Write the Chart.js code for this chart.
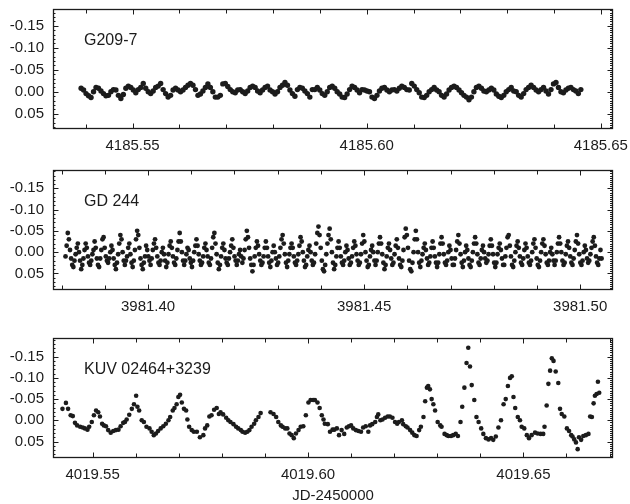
<!DOCTYPE html>
<html>
<head>
<meta charset="utf-8">
<script src="https://cdn.jsdelivr.net/npm/chart.js@4.4.1/dist/chart.umd.min.js"></script>
<style>
  html, body { margin: 0; padding: 0; background: #fff; }
  #wrap { position: relative; width: 630px; height: 504px; }
  canvas { position: absolute; left: 0; display: block; }
</style>
</head>
<body>
<div id="wrap">
  <canvas id="c1" width="630" height="160" style="top:0"></canvas>
  <canvas id="c2" width="630" height="160" style="top:160px"></canvas>
  <canvas id="c3" width="630" height="176" style="top:328px"></canvas>
</div>
<script>
// ---- light curves (differential magnitude vs JD-2450000) ----

// G209-7: regular cadence
const g209Start = 4185.5390;
const g209Cadence = 0.000531;
const g209Dmag = [
  -0.008, -0.004, 0.004, 0.009, 0.013, 0.000, -0.010, -0.008, -0.002, 0.004,
  0.009, 0.008, 0.000, -0.005, -0.004, 0.008, 0.015, 0.006, -0.008, -0.013,
  -0.010, -0.004, 0.002, -0.005, -0.010, -0.019, -0.008, 0.000, 0.004, -0.002,
  -0.010, -0.013, -0.019, -0.005, 0.004, 0.012, 0.008, -0.004, -0.008, -0.004,
  0.000, -0.004, -0.010, -0.015, -0.019, -0.015, -0.005, 0.008, 0.005, -0.002,
  -0.010, -0.018, -0.010, 0.000, 0.012, 0.012, 0.008, -0.018, -0.019, -0.012,
  -0.005, 0.000, 0.002, -0.004, -0.005, 0.000, 0.004, -0.002, -0.010, -0.013,
  -0.010, -0.002, 0.002, -0.004, -0.010, -0.013, -0.004, 0.000, 0.005, 0.000,
  -0.010, -0.015, -0.021, -0.015, -0.004, 0.004, 0.010, -0.005, -0.010, -0.008,
  -0.002, 0.004, 0.012, -0.005,
  -0.005, -0.010, -0.004, 0.004, 0.008, 0.000, -0.010, -0.013, -0.008, 0.000,
  0.005, 0.012, 0.013, 0.005, -0.005, -0.013, -0.010, -0.004, 0.002, -0.005,
  -0.004, -0.002, 0.000, 0.012, 0.015, 0.008, -0.002, -0.008, -0.010, -0.004,
  0.000, -0.004, -0.005, -0.002, -0.008, -0.013, -0.010, -0.005, -0.004, -0.019,
  -0.013, -0.005, 0.002, 0.012, 0.013, 0.008, 0.000, -0.005, -0.010, -0.004,
  0.000, 0.008, 0.012, 0.005, -0.004, -0.010, -0.013, -0.010, -0.004, 0.002,
  0.008, 0.012, 0.018, 0.012, 0.000, -0.010, -0.013, -0.008, -0.002, 0.000,
  -0.004, -0.008, -0.004, 0.005, 0.010, 0.013, 0.008, 0.000, -0.005, -0.010,
  -0.002, 0.000, 0.008, 0.012, 0.004, -0.005, -0.010, -0.015, -0.010, -0.004,
  0.000, -0.005, -0.010, -0.002, 0.005, -0.005, -0.018, -0.021, -0.010, 0.000,
  0.002, -0.004, -0.008, -0.010, -0.005, -0.002, 0.004, -0.005
];

// GD 244: regular cadence
const gd244Start = 3981.3809;
const gd244Cadence = 0.000259;
const gd244Dmag = [
  0.010, -0.015, -0.045, -0.030, -0.005, 0.015, 0.030, 0.035, 0.020, 0.005, -0.010, -0.020, 0.000, 0.020, 0.040, 0.030, 0.015, -0.005, -0.020, -0.010,
  0.010, 0.025, 0.030, 0.020, 0.005, -0.005, -0.025, -0.010, 0.015, 0.030, 0.035, 0.015, -0.005, -0.030, -0.035, -0.010, 0.010, 0.020, 0.025, 0.015,
  0.000, -0.015, -0.005, 0.015, 0.030, 0.040, 0.025, 0.005, -0.020, -0.040, -0.030, 0.000, 0.020, 0.030, 0.020, 0.010, -0.010, -0.020, 0.005, 0.025,
  0.035, 0.020, -0.005, -0.030, -0.050, -0.040, -0.010, 0.015, 0.030, 0.040, 0.025, 0.010, -0.015, -0.005, 0.010, 0.020, 0.030, 0.015, -0.005, -0.020,
  -0.030, -0.010, 0.010, 0.025, 0.030, 0.020, 0.000, -0.010, 0.005, 0.020, 0.035, 0.025, 0.005, -0.015, -0.025, -0.010, 0.010, 0.025, 0.030, 0.015,
  -0.005, -0.025, -0.045, -0.025, 0.000, 0.020, 0.030, 0.020, 0.005, -0.010, -0.005, 0.015, 0.025, 0.035, 0.020, 0.000, -0.015, -0.030, -0.015, 0.005,
  0.020, 0.030, 0.025, 0.010, -0.010, -0.020, -0.005, 0.010, 0.025, 0.030, 0.015, -0.010, -0.035, -0.045, -0.020, 0.005, 0.025, 0.040, 0.030, 0.010,
  -0.010, -0.020, -0.005, 0.015, 0.025, 0.030, 0.015, 0.000, -0.015, -0.030, -0.010, 0.010, 0.020, 0.030, 0.020, 0.005, -0.005, 0.010, 0.025, 0.015,
  -0.005, -0.030, -0.050, -0.035, -0.010, 0.015, 0.030, 0.045, 0.030, 0.010, -0.010, -0.025, -0.015, 0.005, 0.020, 0.030, 0.025, 0.010, -0.010, -0.025,
  -0.010, 0.010, 0.025, 0.035, 0.020, 0.000, -0.015, 0.000, 0.015, 0.030, 0.025, 0.010, -0.010, -0.030, -0.040, -0.020, 0.005, 0.025, 0.035, 0.020,
  0.005, -0.010, -0.020, -0.010, 0.010, 0.025, 0.030, 0.020, 0.005, -0.015, -0.035, -0.025, 0.000, 0.020, 0.035, 0.030, 0.010, -0.005, -0.015, 0.000,
  0.020, 0.030, 0.025, 0.005, -0.020, -0.045, -0.060, -0.040, -0.010, 0.020, 0.040, 0.045, 0.030, 0.005, -0.020, -0.040, -0.055, -0.030, 0.000, 0.025,
  0.040, 0.030, 0.010, -0.010, -0.025, -0.010, 0.010, 0.025, 0.030, 0.020, 0.000, -0.015, -0.005, 0.015, 0.030, 0.025, 0.010, -0.010, -0.025, -0.015,
  0.005, 0.020, 0.030, 0.025, 0.005, -0.020, -0.040, -0.025, 0.000, 0.020, 0.035, 0.030, 0.010, -0.005, -0.015, 0.000, 0.020, 0.030, 0.020, 0.000,
  -0.020, -0.035, -0.020, 0.005, 0.025, 0.040, 0.030, 0.010, -0.010, -0.020, -0.005, 0.015, 0.030, 0.025, 0.005, -0.015, -0.030, -0.010, 0.015, 0.030,
  0.035, 0.020, -0.005, -0.035, -0.055, -0.040, -0.010, 0.020, 0.040, 0.045, 0.025, 0.000, -0.030, -0.050, -0.030, 0.000, 0.025, 0.035, 0.020, 0.005,
  -0.010, -0.020, -0.005, 0.015, 0.030, 0.025, 0.010, -0.010, -0.025, -0.010, 0.010, 0.025, 0.035, 0.025, 0.005, -0.020, -0.035, -0.020, 0.005, 0.025,
  0.030, 0.020, 0.000, -0.015, -0.005, 0.015, 0.030, 0.030, 0.015, -0.005, -0.025, -0.040, -0.020, 0.005, 0.025, 0.035, 0.020, 0.000, -0.015, -0.005,
  0.015, 0.030, 0.035, 0.020, 0.000, -0.020, -0.035, -0.020, 0.005, 0.025, 0.030, 0.015, -0.005, -0.015, 0.000, 0.015, 0.025, 0.020, 0.005, -0.015,
  -0.030, -0.015, 0.005, 0.025, 0.035, 0.025, 0.005, -0.010, -0.020, -0.005, 0.015, 0.030, 0.030, 0.010, -0.010, -0.035, -0.040, -0.015, 0.010, 0.030,
  0.035, 0.020, 0.000, -0.015, -0.025, -0.010, 0.010, 0.025, 0.030, 0.015, -0.005, -0.020, -0.010, 0.010, 0.025, 0.030, 0.020, 0.000, -0.020, -0.030,
  -0.010, 0.015, 0.030, 0.035, 0.020, 0.000, -0.020, -0.030, -0.015, 0.005, 0.025, 0.030, 0.020, 0.000, -0.010, 0.005, 0.020, 0.030, 0.020, 0.000,
  -0.020, -0.035, -0.020, 0.000, 0.020, 0.030, 0.025, 0.005, -0.015, -0.025, -0.010, 0.010, 0.025, 0.030, 0.015, -0.005, -0.025, -0.040, -0.020, 0.005,
  0.025, 0.030, 0.020, 0.000, -0.015, -0.005, 0.015, 0.025, 0.020, 0.005, -0.010, -0.025, -0.035, -0.015, 0.010, 0.025, 0.030, 0.015, -0.005, 0.015
];

// KUV 02464+3239: individual timestamps
const kuvTime = [
  4019.5430, 4019.5438, 4019.5443, 4019.5449, 4019.5454, 4019.5459, 4019.5464, 4019.5471, 4019.5477, 4019.5482,
  4019.5488, 4019.5492, 4019.5498, 4019.5503, 4019.5508, 4019.5513, 4019.5517, 4019.5522, 4019.5526, 4019.5531,
  4019.5536, 4019.5542, 4019.5548, 4019.5554, 4019.5560, 4019.5565, 4019.5571, 4019.5575, 4019.5579, 4019.5585,
  4019.5591, 4019.5596, 4019.5601, 4019.5604, 4019.5608, 4019.5614, 4019.5619, 4019.5625, 4019.5632, 4019.5637,
  4019.5642, 4019.5647, 4019.5652, 4019.5658, 4019.5664, 4019.5670, 4019.5676, 4019.5680, 4019.5686, 4019.5690,
  4019.5695, 4019.5699, 4019.5703, 4019.5707, 4019.5712, 4019.5717, 4019.5720, 4019.5724, 4019.5730, 4019.5735,
  4019.5742, 4019.5749, 4019.5757, 4019.5761, 4019.5766, 4019.5771, 4019.5776, 4019.5782, 4019.5788, 4019.5793,
  4019.5797, 4019.5803, 4019.5810, 4019.5815, 4019.5820, 4019.5827, 4019.5833, 4019.5838, 4019.5844, 4019.5848,
  4019.5854, 4019.5859, 4019.5864, 4019.5869, 4019.5875, 4019.5879, 4019.5885, 4019.5890, 4019.5913, 4019.5920,
  4019.5926, 4019.5931, 4019.5937, 4019.5941, 4019.5947, 4019.5952, 4019.5957, 4019.5962, 4019.5967, 4019.5972,
  4019.5978, 4019.5983, 4019.5989, 4019.5995, 4019.6001, 4019.6006, 4019.6012,
  4019.6016, 4019.6022, 4019.6027, 4019.6032, 4019.6036, 4019.6039, 4019.6046, 4019.6051, 4019.6057, 4019.6061,
  4019.6067, 4019.6072, 4019.6078, 4019.6084, 4019.6090, 4019.6095, 4019.6100, 4019.6105, 4019.6111, 4019.6117,
  4019.6123, 4019.6128, 4019.6134, 4019.6140, 4019.6144, 4019.6149, 4019.6156, 4019.6160, 4019.6163, 4019.6168,
  4019.6173, 4019.6179, 4019.6185, 4019.6190, 4019.6196, 4019.6202, 4019.6207, 4019.6211, 4019.6218, 4019.6221,
  4019.6227, 4019.6231, 4019.6237, 4019.6242, 4019.6247, 4019.6252, 4019.6258, 4019.6262, 4019.6268, 4019.6272,
  4019.6276, 4019.6279, 4019.6283, 4019.6287, 4019.6291, 4019.6295, 4019.6301, 4019.6307, 4019.6310, 4019.6317,
  4019.6322, 4019.6326, 4019.6332, 4019.6337, 4019.6343, 4019.6348, 4019.6354, 4019.6358, 4019.6363, 4019.6368,
  4019.6372, 4019.6376, 4019.6380, 4019.6386, 4019.6391, 4019.6396, 4019.6402, 4019.6407, 4019.6413, 4019.6419,
  4019.6425, 4019.6430, 4019.6436, 4019.6442, 4019.6448, 4019.6454, 4019.6459, 4019.6464, 4019.6469, 4019.6473,
  4019.6477, 4019.6481, 4019.6487, 4019.6492, 4019.6496, 4019.6502, 4019.6508, 4019.6513, 4019.6519, 4019.6527,
  4019.6533, 4019.6540, 4019.6546, 4019.6549, 4019.6554, 4019.6558, 4019.6562, 4019.6566, 4019.6570, 4019.6575,
  4019.6581, 4019.6585, 4019.6589, 4019.6595, 4019.6601, 4019.6606, 4019.6611, 4019.6614, 4019.6618, 4019.6622,
  4019.6626, 4019.6629, 4019.6634, 4019.6639, 4019.6645, 4019.6651, 4019.6655, 4019.6659, 4019.6663, 4019.6666,
  4019.6670, 4019.6673, 4019.6676
];
const kuvDmag = [
  -0.027, -0.041, -0.027, -0.012, -0.010, 0.006, 0.012, 0.015, 0.017, 0.019,
  0.022, 0.015, 0.004, -0.012, -0.023, -0.019, -0.009, 0.008, 0.012, 0.014,
  0.023, 0.029, 0.025, 0.023, 0.022, 0.014, 0.006, 0.004, -0.002, -0.013,
  -0.027, -0.038, -0.058, -0.032, -0.023, 0.000, 0.004, 0.015, 0.019, 0.027,
  0.035, 0.031, 0.025, 0.019, 0.014, 0.008, 0.000, -0.008, -0.023, -0.029,
  -0.038, -0.055, -0.060, -0.042, -0.027, -0.023, -0.002, 0.015, 0.023, 0.027,
  0.027, 0.040, 0.035, 0.019, 0.012, -0.009, -0.012, -0.025, -0.029, -0.015,
  -0.019, -0.014, -0.006, 0.000, 0.004, 0.009, 0.015, 0.019, 0.023, 0.027,
  0.029, 0.027, 0.023, 0.015, 0.008, 0.000, -0.008, -0.017, -0.019, -0.015,
  -0.008, 0.004, 0.012, 0.015, 0.019, 0.019, 0.031, 0.035, 0.042, 0.031,
  0.023, 0.015, 0.014, -0.012, -0.042, -0.048, -0.048,
  -0.048, -0.042, -0.029, -0.012, -0.002, 0.008, 0.009, 0.027, 0.022, 0.022,
  0.019, 0.035, 0.023, 0.032, 0.017, 0.014, 0.012, 0.019, 0.023, 0.025,
  0.027, 0.017, 0.014, 0.027, 0.012, 0.009, 0.004, -0.008, -0.014, 0.000,
  -0.002, -0.006, -0.009, -0.009, -0.006, 0.004, 0.008, 0.004, 0.000, 0.009,
  0.014, 0.017, 0.023, 0.029, 0.035, 0.037, 0.023, 0.015, -0.008, -0.045,
  -0.077, -0.081, -0.073, -0.050, -0.038, -0.023, 0.004, 0.012, 0.015, 0.032,
  0.035, 0.037, 0.037, 0.035, 0.032, 0.037, 0.004, -0.032, -0.077, -0.135,
  -0.171, -0.127, -0.083, -0.048, -0.008, 0.004, 0.019, 0.032, 0.042, 0.045,
  0.042, 0.046, 0.038, 0.017, 0.000, -0.038, -0.050, -0.081, -0.100, -0.104,
  -0.055, -0.029, -0.008, 0.000, 0.015, 0.019, 0.035, 0.042, 0.035, 0.029,
  0.031, 0.032, 0.032, 0.015, -0.035, -0.086, -0.117, -0.146, -0.140, -0.115,
  -0.088, -0.027, -0.015, -0.009, 0.019, 0.025, 0.035, 0.038, 0.045, 0.052,
  0.068, 0.040, 0.046, 0.037, 0.035, 0.032, -0.009, -0.008, -0.040, -0.058,
  -0.062, -0.091, -0.065
];

// axis ticks
const magTicks = [-0.15, -0.10, -0.05, 0.00, 0.05];
const g209Ticks = [4185.55, 4185.60, 4185.65];
const gd244Ticks = [3981.40, 3981.45, 3981.50];
const kuvTicks = [4019.55, 4019.60, 4019.65];

const FONT = '"Liberation Sans", Arial, Helvetica, sans-serif';
const INK = '#1c1c1c';

// k-multiples of step that fall inside [min, max]
function stepsIn(min, max, step) {
  const out = [];
  for (let k = Math.ceil(min / step - 1e-6); k * step <= max + 1e-9; k++) out.push(k);
  return out;
}

// box frame, inward ticks on all four sides, star name
const framePlugin = {
  id: 'frame',
  afterDatasetsDraw(chart, args, o) {
    const { ctx, chartArea: a, scales: { x, y } } = chart;
    const L = Math.round(a.left) + 0.5, R = Math.round(a.right) - 0.5;
    const T = Math.round(a.top) + 0.5, B = Math.round(a.bottom) - 0.5;
    ctx.save();
    ctx.strokeStyle = INK;
    ctx.lineWidth = 1;
    ctx.beginPath();
    stepsIn(x.min, x.max, 0.01).forEach(k => {
      const px = Math.round(x.getPixelForValue(k * 0.01)) + 0.5;
      const len = k % 5 === 0 ? 5 : 4;
      ctx.moveTo(px, B); ctx.lineTo(px, B - len);
      ctx.moveTo(px, T); ctx.lineTo(px, T + len);
    });
    stepsIn(y.min, y.max, 0.005).forEach(k => {
      const py = Math.round(y.getPixelForValue(k * 0.005)) + 0.5;
      const major = k % 10 === 0;
      ctx.moveTo(R, py); ctx.lineTo(R - (major ? 5 : 2.5), py);
      if (major) { ctx.moveTo(L, py); ctx.lineTo(L + 5, py); }
      else if (k % 2 === 0) { ctx.moveTo(L, py); ctx.lineTo(L + 2, py); }
    });
    ctx.stroke();
    ctx.lineWidth = 1.3;
    ctx.strokeRect(L, T, R - L, B - T);
    ctx.fillStyle = INK;
    ctx.font = '16px ' + FONT;
    ctx.textBaseline = 'middle';
    ctx.textAlign = 'left';
    ctx.fillText(o.name, a.left + 31, a.top + 31.5);
    ctx.restore();
  }
};

function makePanel(id, cfg) {
  const points = cfg.time.map((t, i) => ({ x: t, y: cfg.dmag[i] }));
  return new Chart(document.getElementById(id), {
    type: 'scatter',
    data: {
      datasets: [{
        data: points,
        pointRadius: cfg.dot,
        pointHoverRadius: cfg.dot,
        borderWidth: 0,
        backgroundColor: INK
      }]
    },
    options: {
      responsive: false,
      animation: false,
      events: [],
      layout: { padding: { top: cfg.padTop, right: 17, left: 0, bottom: 0 } },
      plugins: {
        legend: { display: false },
        tooltip: { enabled: false },
        frame: { name: cfg.name }
      },
      scales: {
        x: {
          type: 'linear',
          min: cfg.xMin,
          max: cfg.xMax,
          grid: { display: false, drawTicks: false },
          border: { display: false },
          afterBuildTicks: s => { s.ticks = cfg.xTicks.map(v => ({ value: v })); },
          afterFit: s => {
            s.height = cfg.xAxisHeight;
            s.paddingLeft = 0; s.paddingRight = 0;
          },
          ticks: {
            maxRotation: 0,
            autoSkip: false,
            padding: 8,
            color: INK,
            font: { family: FONT, size: 15 },
            callback: v => v.toFixed(2)
          },
          title: cfg.xTitle ? {
            display: true,
            text: cfg.xTitle,
            color: INK,
            padding: { top: 0, bottom: 0 },
            font: { family: FONT, size: 15, lineHeight: 1.1 }
          } : { display: false }
        },
        y: {
          type: 'linear',
          reverse: true,
          min: cfg.yMin,
          max: cfg.yMax,
          grid: { display: false, drawTicks: false },
          border: { display: false },
          afterBuildTicks: s => { s.ticks = magTicks.map(v => ({ value: v })); },
          afterFit: s => {
            s.width = 53;
            s.paddingTop = 0; s.paddingBottom = 0;
          },
          ticks: {
            padding: 9,
            color: INK,
            font: { family: FONT, size: 15 },
            callback: v => v.toFixed(2)
          }
        }
      }
    },
    plugins: [framePlugin]
  });
}

makePanel('c1', {
  name: 'G209-7',
  time: g209Dmag.map((_, i) => g209Start + i * g209Cadence),
  dmag: g209Dmag,
  xMin: 4185.5330, xMax: 4185.6526, xTicks: g209Ticks,
  yMin: -0.188, yMax: 0.0844,
  padTop: 9, xAxisHeight: 31, dot: 2.7
});

makePanel('c2', {
  name: 'GD 244',
  time: gd244Dmag.map((_, i) => gd244Start + i * gd244Cadence),
  dmag: gd244Dmag,
  xMin: 3981.3780, xMax: 3981.5076, xTicks: gd244Ticks,
  yMin: -0.193, yMax: 0.089,
  padTop: 10, xAxisHeight: 30, dot: 2.4
});

makePanel('c3', {
  name: 'KUV 02464+3239',
  time: kuvTime,
  dmag: kuvDmag,
  xMin: 4019.5408, xMax: 4019.6708, xTicks: kuvTicks,
  yMin: -0.194, yMax: 0.0888,
  padTop: 10, xAxisHeight: 46, dot: 2.3,
  xTitle: 'JD-2450000'
});
</script>
</body>
</html>
